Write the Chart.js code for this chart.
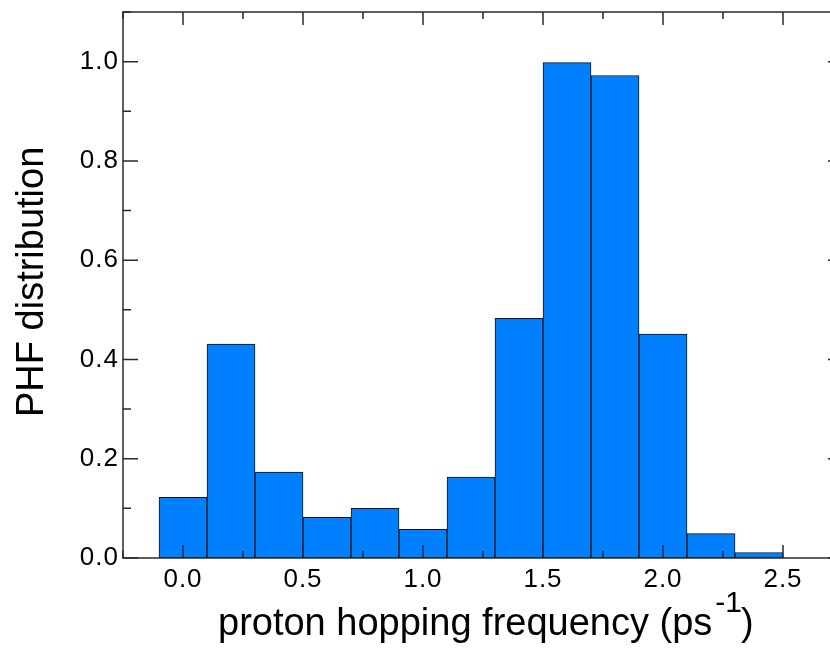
<!DOCTYPE html>
<html>
<head>
<meta charset="utf-8">
<script src="https://cdn.jsdelivr.net/npm/chart.js@4.4.0/dist/chart.umd.min.js"></script>
<style>
  html, body { margin: 0; padding: 0; background: #fff; }
  #wrap { width: 830px; height: 651px; overflow: hidden; position: relative; }
</style>
</head>
<body>
<div id="wrap">
  <canvas id="phfChart" width="860" height="651"></canvas>
</div>
<script>
// histogram bin centres (ps^-1) and normalised counts
const binCenters = [0.0, 0.2, 0.4, 0.6, 0.8, 1.0, 1.2, 1.4, 1.6, 1.8, 2.0, 2.2, 2.4];
const phfValues = [0.122, 0.431, 0.173, 0.082, 0.100, 0.058, 0.163, 0.483, 0.998, 0.972, 0.451, 0.049, 0.011];

// axis ticks
const xMajorTicks = [0.0, 0.5, 1.0, 1.5, 2.0, 2.5];
const xMinorTicks = [-0.25, 0.25, 0.75, 1.25, 1.75, 2.25, 2.75];
const yMajorTicks = [0.0, 0.2, 0.4, 0.6, 0.8, 1.0];
const yMinorTicks = [0.1, 0.3, 0.5, 0.7, 0.9, 1.1];

const xTitle = 'proton hopping frequency (ps';
const xTitleSup = '-1';
const yTitle = 'PHF distribution';

const frameColor = '#2a2a2a';
const fontFamily = '"Liberation Sans", Arial, sans-serif';

// frame, inward ticks and axis titles
const framePlugin = {
    id: 'frame',
    beforeDraw: function (chart) {
        chart.ctx.letterSpacing = '1px';
    },
    afterDraw: function (chart) {
        const ctx = chart.ctx;
        const a = chart.chartArea;
        const xs = chart.scales.x;
        const ys = chart.scales.y;
        ctx.save();
        ctx.letterSpacing = '0px';
        ctx.strokeStyle = frameColor;
        ctx.lineWidth = 1.5;
        ctx.strokeRect(a.left, a.top, a.right - a.left, a.bottom - a.top);

        ctx.beginPath();
        xMajorTicks.forEach(function (v) {
            const px = xs.getPixelForValue(v);
            ctx.moveTo(px, a.bottom); ctx.lineTo(px, a.bottom - 13);
            ctx.moveTo(px, a.top); ctx.lineTo(px, a.top + 13);
        });
        xMinorTicks.forEach(function (v) {
            const px = xs.getPixelForValue(v);
            ctx.moveTo(px, a.bottom); ctx.lineTo(px, a.bottom - 7);
            ctx.moveTo(px, a.top); ctx.lineTo(px, a.top + 7);
        });
        yMajorTicks.forEach(function (v) {
            const py = ys.getPixelForValue(v);
            ctx.moveTo(a.left, py); ctx.lineTo(a.left + 15, py);
            ctx.moveTo(a.right, py); ctx.lineTo(a.right - 15, py);
        });
        yMinorTicks.forEach(function (v) {
            const py = ys.getPixelForValue(v);
            ctx.moveTo(a.left, py); ctx.lineTo(a.left + 8, py);
            ctx.moveTo(a.right, py); ctx.lineTo(a.right - 8, py);
        });
        ctx.stroke();

        // x title with superscript
        ctx.fillStyle = '#000';
        ctx.textAlign = 'left';
        ctx.textBaseline = 'alphabetic';
        ctx.font = '38px ' + fontFamily;
        ctx.fillText(xTitle, 218, 635);
        const mainEnd = 218 + ctx.measureText(xTitle).width;
        ctx.font = '30px ' + fontFamily;
        ctx.fillText(xTitleSup, mainEnd + 3, 612);
        const supEnd = mainEnd + 3 + ctx.measureText(xTitleSup).width;
        ctx.font = '38px ' + fontFamily;
        ctx.fillText(')', supEnd - 1, 635);

        // y title
        ctx.translate(43, 417);
        ctx.rotate(-Math.PI / 2);
        ctx.fillText(yTitle, 0, 0);
        ctx.restore();
    }
};

const tickFont = { family: fontFamily, size: 26 };

new Chart(document.getElementById('phfChart'), {
    type: 'bar',
    data: {
        datasets: [{
            data: binCenters.map(function (c, i) { return { x: c, y: phfValues[i] }; }),
            backgroundColor: 'rgb(0, 128, 255)',
            borderColor: '#111',
            borderWidth: 1,
            borderSkipped: false,
            barPercentage: 1.0,
            categoryPercentage: 1.0
        }]
    },
    options: {
        responsive: false,
        animation: false,
        layout: { padding: { left: 0, right: 17, top: 12, bottom: 0 } },
        plugins: {
            legend: { display: false },
            tooltip: { enabled: false },
            title: { display: false }
        },
        scales: {
            x: {
                type: 'linear',
                min: -0.25,
                max: 2.75,
                offset: false,
                grid: { display: false, drawTicks: false },
                border: { display: false },
                afterBuildTicks: function (s) { s.ticks = xMajorTicks.map(function (v) { return { value: v }; }); },
                afterFit: function (s) {
                    s.height = 93;
                    s.paddingLeft = 0; s.paddingRight = 0;
                },
                ticks: {
                    padding: 6,
                    color: '#000',
                    font: tickFont,
                    maxRotation: 0,
                    callback: function (v) { return Number(v).toFixed(1); }
                }
            },
            y: {
                min: 0,
                max: 1.1,
                grid: { display: false, drawTicks: false },
                border: { display: false },
                afterBuildTicks: function (s) { s.ticks = yMajorTicks.map(function (v) { return { value: v }; }); },
                afterFit: function (s) {
                    s.width = 123;
                    s.paddingTop = 0; s.paddingBottom = 0;
                },
                ticks: {
                    padding: 4,
                    color: '#000',
                    font: tickFont,
                    callback: function (v) { return Number(v).toFixed(1); }
                }
            }
        }
    },
    plugins: [framePlugin]
});
</script>
</body>
</html>
